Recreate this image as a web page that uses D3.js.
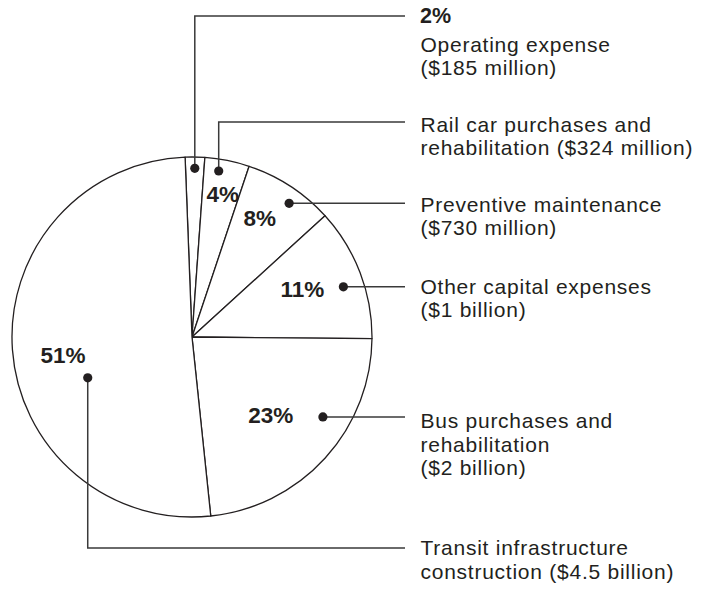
<!DOCTYPE html>
<html><head><meta charset="utf-8">
<script src="https://cdn.jsdelivr.net/npm/d3@7"></script>
<style>body{margin:0;background:#fff}svg{display:block}</style>
</head><body>
<svg id="chart" width="712" height="590"></svg>
<script>
// ---- data ----
const categories = ["Operating expense", "Rail car purchases and rehabilitation", "Preventive maintenance", "Other capital expenses", "Bus purchases and rehabilitation", "Transit infrastructure construction"];
const shares = [1.75, 4.0, 8.1, 11.9, 23.2, 51.05];          // slice sizes as drawn
const percentLabels = ["2%", "4%", "8%", "11%", "23%", "51%"];
const amounts = ["$185 million", "$324 million", "$730 million", "$1 billion", "$2 billion", "$4.5 billion"];
const labelLines = [
  ["Operating expense", "($185 million)"],
  ["Rail car purchases and", "rehabilitation ($324 million)"],
  ["Preventive maintenance", "($730 million)"],
  ["Other capital expenses", "($1 billion)"],
  ["Bus purchases and", "rehabilitation", "($2 billion)"],
  ["Transit infrastructure", "construction ($4.5 billion)"]
];

// ---- layout ----
const svg = d3.select("#chart");
const cx = 192, cy = 337, R = 180;
const deg = Math.PI / 180;
const start = -2.2 * deg;
const ink = "#231f20";
const FONT = "'Liberation Sans', Arial, Helvetica, sans-serif";

const pie = d3.pie().sort(null).value(d => d).startAngle(start).endAngle(start + 2 * Math.PI);
const arcs = pie(shares);
const arc = d3.arc().innerRadius(0).outerRadius(R);
const rScale = d3.scaleLinear().domain([0, 1]).range([0, R]);

const g = svg.append("g").attr("transform", `translate(${cx},${cy})`);
g.selectAll("path.slice").data(arcs).join("path")
  .attr("class", "slice")
  .attr("d", arc)
  .attr("fill", "#fff")
  .attr("stroke", ink)
  .attr("stroke-width", 1.3)
  .attr("stroke-linejoin", "round");

// callout anchors: angle within slice (fraction of slice span) and radius fraction
const callout = [
  {t: 0.50, rf: 0.937, elbowY: 16,  pct: null, base: 22.7},
  {t: 0.35, rf: 0.934, elbowY: 122, pct: {dx: 4, dy: 30.7, anchor: "middle"}, base: 131.5},
  {t: 0.60, rf: 0.918, elbowY: null, pct: {dx: -13, dy: 22.3, anchor: "end"}, base: 211.5},
  {t: 0.56, rf: 0.886, elbowY: null, pct: {dx: -19, dy: 10, anchor: "end"}, base: 293.5},
  {t: 0.37, rf: 0.852, elbowY: null, pct: {dx: -29.5, dy: 6, anchor: "end"}, base: 428},
  {t: 0.406, rf: 0.622, elbowY: 548, pct: {dx: -24.7, dy: -14.7, anchor: "middle"}, base: 555}
];
const leaderEnd = 405, textX = 420.5, lineH = 23.6;

arcs.forEach((a, i) => {
  const c = callout[i];
  const ang = a.startAngle + (a.endAngle - a.startAngle) * c.t;
  const r = rScale(c.rf);
  const x = cx + r * Math.sin(ang), y = cy - r * Math.cos(ang);
  const ly = c.elbowY === null ? y : c.elbowY;
  const pts = c.elbowY === null ? [[x, y], [leaderEnd, y]] : [[x, y], [x, ly], [leaderEnd, ly]];
  svg.append("path")
    .attr("d", d3.line()(pts))
    .attr("fill", "none").attr("stroke", "#3a3a3a").attr("stroke-width", 1.5);
  svg.append("circle").attr("cx", x).attr("cy", y).attr("r", 4.6).attr("fill", ink);

  let base = c.base;
  if (!c.pct) {
    svg.append("text").attr("x", textX - 0.5).attr("y", base)
      .attr("font-family", FONT).attr("font-weight", "bold").attr("font-size", 21.5).attr("fill", ink)
      .text(percentLabels[i]);
    base += 29;
  } else {
    svg.append("text").attr("x", x + c.pct.dx).attr("y", y + c.pct.dy)
      .attr("text-anchor", c.pct.anchor)
      .attr("font-family", FONT).attr("font-weight", "bold").attr("font-size", 22.5).attr("fill", ink)
      .text(percentLabels[i]);
  }
  labelLines[i].forEach((line, k) => {
    svg.append("text")
      .attr("x", textX).attr("y", base + k * lineH)
      .attr("font-family", FONT).attr("font-size", 21).attr("letter-spacing", 0.75).attr("fill", ink)
      .text(line);
  });
});
</script>
</body></html>
